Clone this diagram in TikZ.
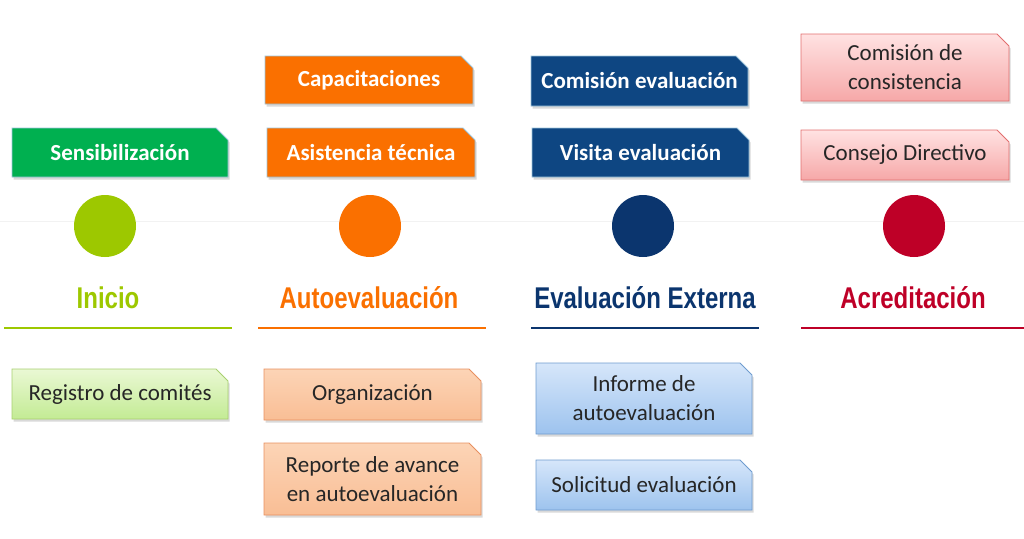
\documentclass[tikz,border=0pt]{standalone}
\usepackage{fontspec}
\setmainfont{Carlito}
\newfontfamily\phasefont[FakeStretch=0.8]{Liberation Sans}
\usetikzlibrary{shapes.misc,shadows,positioning}

\definecolor{inigreen}{HTML}{00B050}
\definecolor{inilime}{HTML}{9DC800}
\definecolor{autoorange}{HTML}{FA7000}
\definecolor{evalblue}{HTML}{0E4682}
\definecolor{evalnavy}{HTML}{0B356E}
\definecolor{acred}{HTML}{BE0027}
\definecolor{edgeblue}{HTML}{9CC3DA}

\tikzset{
  snipbox/.style={chamfered rectangle, chamfered rectangle corners=north east,
    chamfered rectangle xsep=6pt, chamfered rectangle ysep=6pt,
    inner sep=2pt, align=center,
    drop shadow={shadow xshift=1.5pt, shadow yshift=-2.5pt, opacity=.3}},
  topbox/.style={snipbox, draw=edgeblue, line width=.8pt, text=white,
    font=\fontsize{23}{27}\selectfont\bfseries},
  lowbox/.style={snipbox, line width=.8pt, text=black!85,
    font=\fontsize{23}{29}\selectfont},
  pinkbox/.style={lowbox, draw={rgb,255:red,226;green,110;blue,110}, top color={rgb,255:red,255;green,226;blue,226}, bottom color={rgb,255:red,246;green,168;blue,168}},
  limebox/.style={lowbox, draw={rgb,255:red,168;green,208;blue,112}, top color={rgb,255:red,234;green,248;blue,212}, bottom color={rgb,255:red,195;green,235;blue,148}},
  peachbox/.style={lowbox, draw={rgb,255:red,232;green,144;blue,96}, top color={rgb,255:red,252;green,212;blue,182}, bottom color={rgb,255:red,249;green,190;blue,149}},
  skybox/.style={lowbox, draw={rgb,255:red,111;green,156;blue,207}, top color={rgb,255:red,214;green,230;blue,250}, bottom color={rgb,255:red,157;green,195;blue,238}},
  phase/.style={font=\phasefont\fontsize{30}{32}\selectfont\bfseries}
}

\begin{document}
\begin{tikzpicture}[x=1pt,y=-1pt]
	\useasboundingbox (0,0) rectangle (1024,538);
	\draw[black!5, line width=.6pt] (0,221) -- (1024,221);

	% upper boxes
	\node[topbox, fill=inigreen, minimum width=216, minimum height=49] (sens) at (120,152.5) {Sensibilización};
	\node[topbox, fill=autoorange, minimum width=208, minimum height=48] (capa) at (369,80) {Capacitaciones};
	\node[topbox, fill=autoorange, minimum width=208, minimum height=49] (asis) at (371,152.5) {Asistencia técnica};
	\node[topbox, fill=evalblue, minimum width=217, minimum height=50] (come) at (639.5,81) {Comisión evaluación};
	\node[topbox, fill=evalblue, minimum width=217, minimum height=49] (visi) at (640.5,152.5) {Visita evaluación};
	\node[pinkbox, minimum width=208, minimum height=67] (comc) at (905,67.5) {Comisión de\\consistencia};
	\node[pinkbox, minimum width=208, minimum height=50] (cons) at (905,155) {Consejo Directivo};

	% phases
	\foreach \name/\cx/\lx/\la/\lb/\col/\txt in
	{ini/105/108/4/232/inilime/Inicio, auto/370/369/258/486/autoorange/Autoevaluación,
	 ext/643/645/531/759/evalnavy/Evaluación Externa, acr/914/913/801/1024/acred/Acreditación}
	{
	\node[circle, fill=\col, minimum size=62, inner sep=0] (\name dot) at (\cx,226) {};
	\node[phase, text=\col] (\name lab) at (\lx,298) {\txt};
	\draw[\col, line width=2.8pt] (\la,328) -- (\lb,328);
	}

	% lower boxes
	\node[limebox, minimum width=216, minimum height=50] (regi) at (120,394) {Registro de comités};
	\node[peachbox, minimum width=217, minimum height=51] (orga) at (372.5,394.5) {Organización};
	\node[peachbox, minimum width=217, minimum height=72] (repo) at (372.5,479) {Reporte de avance\\en autoevaluación};
	\node[skybox, minimum width=216, minimum height=71] (info) at (644,398.5) {Informe de\\autoevaluación};
	\node[skybox, minimum width=216, minimum height=50] (soli) at (644,485) {Solicitud evaluación};
\end{tikzpicture}
\end{document}
